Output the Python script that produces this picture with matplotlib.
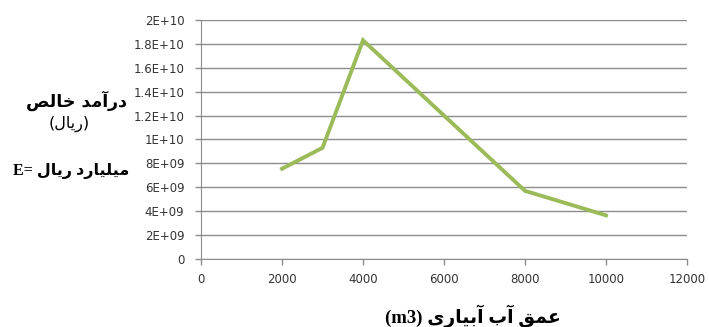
import matplotlib
matplotlib.use("Agg")
import matplotlib.pyplot as plt
from matplotlib.ticker import FixedLocator, FuncFormatter

# irrigation water depth (m3) and net income (rial)
depth = [2000, 3000, 4000, 8000, 10000]
income = [7.55e9, 9.3e9, 1.83e10, 5.7e9, 3.65e9]

x_ticks = [0, 2000, 4000, 6000, 8000, 10000, 12000]
y_ticks = [0, 2e9, 4e9, 6e9, 8e9, 1e10, 1.2e10, 1.4e10, 1.6e10, 1.8e10, 2e10]

ylabel_title = "درآمد خالص"
ylabel_unit = "(ریال)"
ylabel_note = "میلیارد ریال"
xlabel_text = "عمق آب آبیاری"

# presentation forms: isolated, final, initial, medial
FORMS = {
    "ا": ("\uFE8D", "\uFE8E", None, None),
    "آ": ("\uFE81", "\uFE82", None, None),
    "د": ("\uFEA9", "\uFEAA", None, None),
    "ر": ("\uFEAD", "\uFEAE", None, None),
    "ب": ("\uFE8F", "\uFE90", "\uFE91", "\uFE92"),
    "خ": ("\uFEA5", "\uFEA6", "\uFEA7", "\uFEA8"),
    "ل": ("\uFEDD", "\uFEDE", "\uFEDF", "\uFEE0"),
    "ص": ("\uFEB9", "\uFEBA", "\uFEBB", "\uFEBC"),
    "م": ("\uFEE1", "\uFEE2", "\uFEE3", "\uFEE4"),
    "ی": ("\uFBFC", "\uFBFD", "\uFBFE", "\uFBFF"),
    "ع": ("\uFEC9", "\uFECA", "\uFECB", "\uFECC"),
    "ق": ("\uFED5", "\uFED6", "\uFED7", "\uFED8"),
}
MIRROR = {"(": ")", ")": "("}


def rtl(text):
    """Join Persian letters and lay them out right to left."""
    out = []
    for i, ch in enumerate(text):
        if ch not in FORMS:
            out.append(MIRROR.get(ch, ch))
            continue
        prev = text[i - 1] if i > 0 else ""
        nxt = text[i + 1] if i + 1 < len(text) else ""
        joins_prev = prev in FORMS and FORMS[prev][2] is not None
        joins_next = FORMS[ch][2] is not None and nxt in FORMS
        iso, fin, ini, med = FORMS[ch]
        if joins_prev and joins_next:
            out.append(med)
        elif joins_prev:
            out.append(fin)
        elif joins_next:
            out.append(ini)
        else:
            out.append(iso)
    return "".join(reversed(out))


def excel_fmt(v, pos):
    if v == 0:
        return "0"
    s = "{:.1E}".format(v)
    mant, exp = s.split("E")
    mant = mant.rstrip("0").rstrip(".")
    return "{}E{}{:02d}".format(mant, "+" if int(exp) >= 0 else "-", abs(int(exp)))


fig = plt.figure(figsize=(7.09, 3.27), dpi=100)
ax = fig.add_axes([0.2835, 0.208, 0.6855, 0.731])

ax.plot(depth, income, color="#9BBB59", linewidth=2.8, solid_joinstyle="miter")

ax.set_xlim(0, 12000)
ax.set_ylim(0, 2e10)
ax.xaxis.set_major_locator(FixedLocator(x_ticks))
ax.yaxis.set_major_locator(FixedLocator(y_ticks))
ax.yaxis.set_major_formatter(FuncFormatter(excel_fmt))
ax.grid(axis="y", color="#8C8C8C", linewidth=1.0)
ax.set_axisbelow(True)
for side in ("top", "right"):
    ax.spines[side].set_visible(False)
for side in ("left", "bottom"):
    ax.spines[side].set_color("#8C8C8C")
ax.tick_params(axis="both", colors="#8C8C8C", labelcolor="#333333",
               labelsize=8.5, length=4, width=1.0, direction="out")
ax.tick_params(axis="y", pad=8)
ax.tick_params(axis="x", pad=6)

fig.text(0.108, 0.692, rtl(ylabel_title), ha="center", va="center",
         fontsize=12.5, fontweight="bold", family="DejaVu Sans")
fig.text(0.098, 0.62, rtl(ylabel_unit), ha="center", va="center",
         fontsize=11.5, family="DejaVu Sans")
fig.text(0.1, 0.478, "E= " + rtl(ylabel_note), ha="center", va="center",
         fontsize=11.5, fontweight="bold", family=["Liberation Serif", "DejaVu Sans"])
fig.text(0.667, 0.034, "(m3) " + rtl(xlabel_text), ha="center", va="center",
         fontsize=13.5, fontweight="bold", family=["Liberation Serif", "DejaVu Sans"])

fig.savefig("out.png", dpi=100)
